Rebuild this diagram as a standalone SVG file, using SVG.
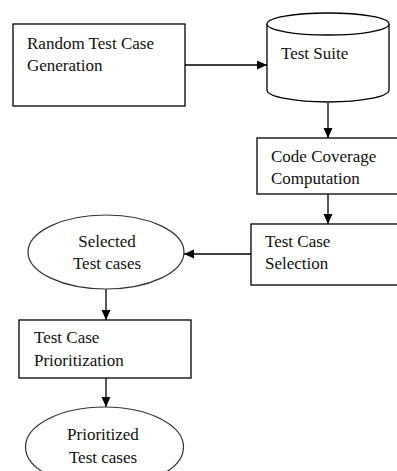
<svg xmlns="http://www.w3.org/2000/svg" width="397" height="471" viewBox="0 0 397 471">
<defs>
<style>
.box{fill:#fff;stroke:#000;stroke-width:1.3}
.ell{fill:#fff;stroke:#333;stroke-width:1.2}
.t{font-family:"Liberation Serif","Times New Roman",serif;font-size:17px;fill:#111}
.c{text-anchor:middle}
.ln{stroke:#000;stroke-width:1.3;fill:none}
</style>
<marker id="ah" viewBox="0 0 10 10" refX="10" refY="5" markerWidth="10" markerHeight="10" markerUnits="userSpaceOnUse" orient="auto">
<path d="M0,0.5 L10,5 L0,9.5 Z" fill="#000"/>
</marker>
</defs>
<rect width="397" height="471" fill="#fff"/>
<g id="connectors">
<line class="ln" x1="185" y1="65" x2="267" y2="65" marker-end="url(#ah)"/>
<line class="ln" x1="328" y1="103" x2="328" y2="138" marker-end="url(#ah)"/>
<line class="ln" x1="328" y1="194" x2="328" y2="224" marker-end="url(#ah)"/>
<line class="ln" x1="251" y1="254" x2="184" y2="254" marker-end="url(#ah)"/>
<line class="ln" x1="106" y1="289" x2="106" y2="320" marker-end="url(#ah)"/>
<line class="ln" x1="106" y1="378" x2="106" y2="407" marker-end="url(#ah)"/>
</g>
<g id="random-generation">
<rect class="box" x="13" y="24" width="172" height="82"/>
<text class="t" x="27" y="49">Random Test Case</text>
<text class="t" x="27" y="71">Generation</text>
</g>
<g id="test-suite">
<path class="box" d="M267,24 L267,90 A61,12 0 0 0 389,90 L389,24"/>
<ellipse class="box" cx="328" cy="24" rx="61" ry="11"/>
<text class="t" x="281" y="59">Test Suite</text>
</g>
<g id="code-coverage">
<rect class="box" x="257" y="138" width="145" height="56"/>
<text class="t" x="271" y="162">Code Coverage</text>
<text class="t" x="271" y="184">Computation</text>
</g>
<g id="test-case-selection">
<rect class="box" x="251" y="224" width="151" height="61"/>
<text class="t" x="265" y="247">Test Case</text>
<text class="t" x="265" y="269">Selection</text>
</g>
<g id="selected-test-cases">
<ellipse class="ell" cx="106" cy="252" rx="78" ry="37"/>
<text class="t c" x="107" y="247">Selected</text>
<text class="t c" x="107" y="269">Test cases</text>
</g>
<g id="test-case-prioritization">
<rect class="box" x="19" y="320" width="172" height="58"/>
<text class="t" x="34" y="343">Test Case</text>
<text class="t" x="34" y="366">Prioritization</text>
</g>
<g id="prioritized-test-cases">
<ellipse class="ell" cx="104.5" cy="447" rx="79" ry="40"/>
<text class="t c" x="103" y="440">Prioritized</text>
<text class="t c" x="103" y="463">Test cases</text>
</g>
</svg>
